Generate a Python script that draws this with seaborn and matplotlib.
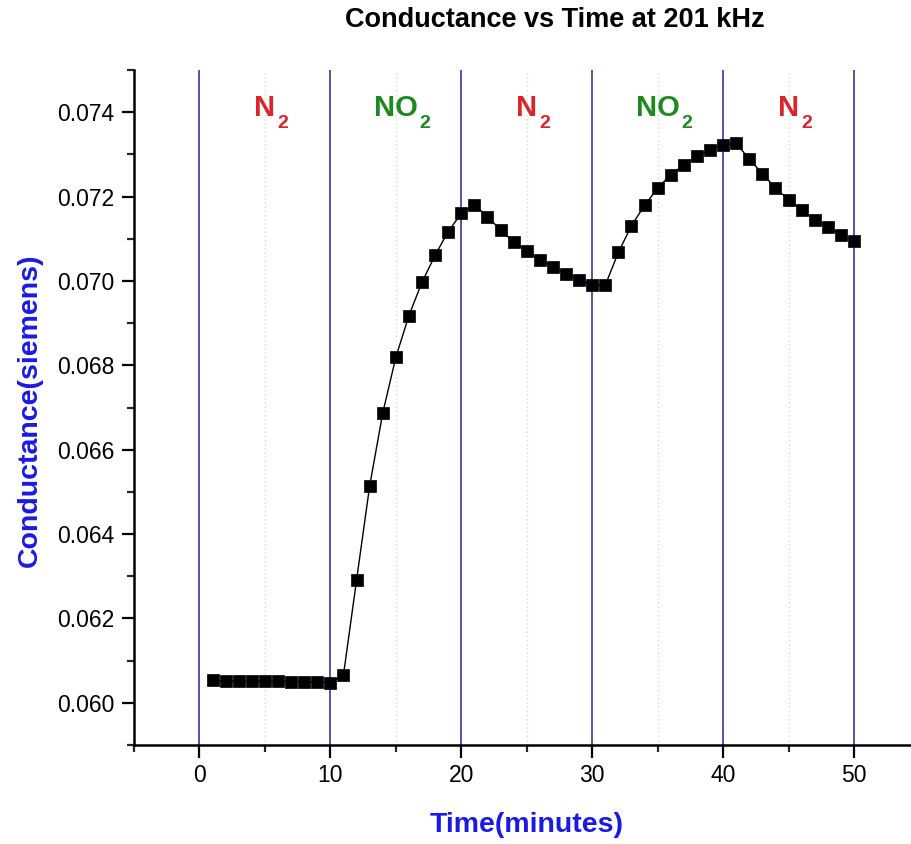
import matplotlib
matplotlib.use("Agg")
import matplotlib.pyplot as plt
from matplotlib import font_manager
from matplotlib.ticker import MultipleLocator, FormatStrFormatter
import seaborn as sns
import pandas as pd

# ---- data ----
time_min = list(range(1, 51))
conductance = [
    0.06053, 0.06052, 0.06052, 0.06052, 0.06051, 0.06051, 0.06050, 0.06050, 0.06049, 0.06048,
    0.06066, 0.06291, 0.06514, 0.06687, 0.06819, 0.06918, 0.06997, 0.07061, 0.07117, 0.07160,
    0.07181, 0.07152, 0.07121, 0.07092, 0.07071, 0.07050, 0.07034, 0.07017, 0.07003, 0.06990,
    0.06990, 0.07068, 0.07131, 0.07179, 0.07220, 0.07252, 0.07275, 0.07296, 0.07311, 0.07323,
    0.07326, 0.07289, 0.07254, 0.07220, 0.07193, 0.07168, 0.07145, 0.07127, 0.07110, 0.07094,
]
phase_centers = [5, 15, 25, 35, 45]
phase_main = ["N", "NO", "N", "NO", "N"]
phase_sub = ["2", "2", "2", "2", "2"]
phase_colors = ["#d8262b", "#1e8a1e", "#d8262b", "#1e8a1e", "#d8262b"]
boundaries = [0, 10, 20, 30, 40, 50]

title = "Conductance vs Time at 201 kHz"
xlabel = "Time(minutes)"
ylabel = "Conductance(siemens)"

sns.set_style("white")
names = {f.name for f in font_manager.fontManager.ttflist}
narrow = "Liberation Sans Narrow" if "Liberation Sans Narrow" in names else "Liberation Sans"
plt.rcParams["font.family"] = ["Liberation Sans", "DejaVu Sans"]

W, H = 912, 844
fig = plt.figure(figsize=(W / 100, H / 100), dpi=100)
ax_left, ax_right, ax_top, ax_bottom = 134, 919.5, 70, 745
ax = fig.add_axes([ax_left / W, 1 - ax_bottom / H, (ax_right - ax_left) / W, (ax_bottom - ax_top) / H])

# dotted minor grid lines
for xc in phase_centers:
    ax.axvline(xc, color="#c9e3c9", lw=1.0, ls=(0, (1, 2)), zorder=0)
# phase boundaries
for b in boundaries:
    ax.axvline(b, color="#3535a5", lw=1.2, zorder=1)

df = pd.DataFrame({"t": time_min, "g": conductance})
sns.lineplot(data=df, x="t", y="g", ax=ax, color="black", lw=1.0,
             marker="s", markersize=8, markeredgewidth=0.5,
             markeredgecolor="black", markerfacecolor="black", zorder=3)

ax.set_xlim(-5, 55)
ax.set_ylim(0.059, 0.075)
ax.xaxis.set_major_locator(MultipleLocator(10))
ax.xaxis.set_minor_locator(MultipleLocator(5))
ax.yaxis.set_major_locator(MultipleLocator(0.002))
ax.yaxis.set_minor_locator(MultipleLocator(0.001))
ax.yaxis.set_major_formatter(FormatStrFormatter("%.3f"))
ax.tick_params(axis="both", which="major", direction="out", length=9, width=1.6,
               labelsize=16.5, pad=5, colors="black", bottom=True, left=True)
ax.tick_params(axis="both", which="minor", direction="out", length=5, width=1.6,
               bottom=True, left=True)
ax.set_xlabel("")
ax.set_ylabel("")
for s in ["top", "right"]:
    ax.spines[s].set_visible(False)
for s in ["left", "bottom"]:
    ax.spines[s].set_linewidth(1.8)
    ax.spines[s].set_color("black")

# phase labels
fig.canvas.draw()
renderer = fig.canvas.get_renderer()
for xc, m, sub, c in zip(phase_centers, phase_main, phase_sub, phase_colors):
    t = ax.text(xc, 0.07392, m, ha="center", va="baseline", color=c,
                fontsize=21, fontweight="bold", family=[narrow, "DejaVu Sans"])
    bb = t.get_window_extent(renderer)
    xr, _ = ax.transData.inverted().transform((bb.x1 + 2, bb.y0))
    ax.annotate(sub, xy=(xr, 0.07392), xytext=(0, -9), textcoords="offset points",
                ha="left", va="baseline", color=c, fontsize=14, fontweight="bold",
                family=[narrow, "DejaVu Sans"])

fig.text(555 / W, 1 - 20 / H, title, ha="center", va="center", fontsize=19.5,
         fontweight="bold", color="black")
fig.text(527 / W, 1 - 825 / H, xlabel, ha="center", va="center", fontsize=20.5,
         fontweight="bold", color="#1a1ae6", family=[narrow, "DejaVu Sans"])
fig.text(30 / W, 1 - 410 / H, ylabel, ha="center", va="center", rotation=90, fontsize=20.5,
         fontweight="bold", color="#1a1ae6", family=[narrow, "DejaVu Sans"])

fig.savefig("out.png", dpi=100)
